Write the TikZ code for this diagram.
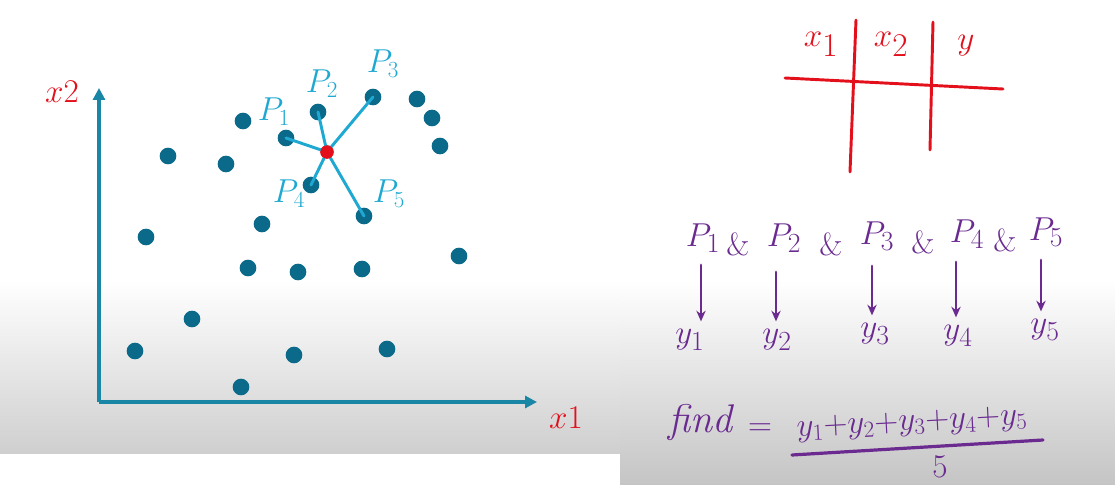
\documentclass[tikz,border=0pt]{standalone}
\usetikzlibrary{arrows.meta}
\definecolor{dotc}{HTML}{0B6A8A}
\definecolor{axisc}{HTML}{1A86A6}
\definecolor{cyanc}{HTML}{1FA9D2}
\definecolor{redc}{HTML}{E3101C}
\definecolor{purc}{HTML}{6A2A90}
\definecolor{grayb}{HTML}{CFCFCF}
\begin{document}
\begin{tikzpicture}[x=0.75pt,y=-0.75pt,
  pt/.style={circle,fill=dotc,inner sep=0pt,minimum size=12.5pt},
  query/.style={circle,fill=redc,inner sep=0pt,minimum size=10pt},
  axisline/.style={axisc,line width=3pt,-{Triangle[length=9pt,width=9pt]}},
  nbr/.style={cyanc,line width=2.2pt,line cap=round},
  clab/.style={cyanc,font=\fontsize{24}{26}\selectfont,inner sep=0pt},
  rlab/.style={redc,font=\fontsize{24}{26}\selectfont,inner sep=0pt},
  thead/.style={redc,font=\fontsize{38}{40}\selectfont,inner sep=0pt},
  tab/.style={redc,line width=2.2pt,line cap=round},
  ptxt/.style={purc,font=\fontsize{29}{31}\selectfont,inner sep=1pt},
  amp/.style={purc,font=\fontsize{24}{26}\selectfont,inner sep=1pt},
  ytxt/.style={purc,font=\fontsize{32}{34}\selectfont,inner sep=1pt},
  ftxt/.style={purc,font=\fontsize{23}{25}\selectfont,inner sep=1pt},
  mapline/.style={purc,line width=2.2pt,line cap=round,-{Stealth[length=8pt,width=7pt]}},
  fracbar/.style={purc,line width=2.4pt,line cap=round}]
\useasboundingbox (0,0) rectangle (1115,485);
\fill[white] (0,0) rectangle (1115,485);
% background gradients
\shade[top color=white,bottom color=grayb] (0,280) rectangle (620,453);
\shade[top color=white,bottom color=grayb!95!black] (620,280) rectangle (1115,485);

% axes
\coordinate (O) at (99,402);
\coordinate (ytip) at (99,88);
\coordinate (xtip) at (537,402);
\draw[axisline] (O) -- (ytip);
\draw[axisline] (O) -- (xtip);
\node[rlab] (lx2) at (62,92) {$x2$};
\node[rlab] (lx1) at (566,418) {$x1$};

% data points
\foreach \n/\x/\y in {a/243/121,b/417/99,c/432/118,d/440/146,e/168/156,
  f/226/164,g/146/237,h/262/224,i/248/268,j/298/272,k/362/269,l/459/256,
  m/192/319,n/135/351,o/294/355,p/387/349,q/241/387}
  \node[pt] (\n) at (\x,\y) {};
\node[pt] (n1) at (286,138) {};
\node[pt] (n2) at (318,112) {};
\node[pt] (n3) at (373,97) {};
\node[pt] (n4) at (311,185) {};
\node[pt] (n5) at (364,216) {};
\node[query] (qp) at (327,152) {};
\foreach \k in {1,...,5} \draw[nbr] (qp.center) -- (n\k.center);
\node[query] at (qp) {};
\node[clab] (c1) at (274,112) {$P_1$};
\node[clab] (c2) at (322,84) {$P_2$};
\node[clab] (c3) at (383,64) {$P_3$};
\node[clab] (c4) at (289,194) {$P_4$};
\node[clab] (c5) at (389,194) {$P_5$};

% table
\coordinate (h1) at (785,78);
\coordinate (h2) at (1003,89);
\coordinate (v1a) at (856,20);
\coordinate (v1b) at (850,172);
\coordinate (v2a) at (933,22);
\coordinate (v2b) at (930,150);
\draw[tab] (h1) -- (h2);
\draw[tab] (v1a) -- (v1b);
\draw[tab] (v2a) -- (v2b);
\node[thead] (tx1) at (821,44) {$x_1$};
\node[thead] (tx2) at (891,44) {$x_2$};
\node[thead,font=\fontsize{48}{50}\selectfont] (ty) at (966,46) {$y$};

% P row
\node[ptxt] (P1) at (703,238) {$P_1$};
\node[amp] (a1) at (738,244) {\&};
\node[ptxt] (P2) at (784,238) {$P_2$};
\node[amp] (a2) at (831,244) {\&};
\node[ptxt] (P3) at (877,236) {$P_3$};
\node[amp] (a3) at (923,242) {\&};
\node[ptxt] (P4) at (967,234) {$P_4$};
\node[amp] (a4) at (1005,240) {\&};
\node[ptxt] (P5) at (1046,232) {$P_5$};
% y row
\node[ytxt] (y1) at (690,340) {$y_1$};
\node[ytxt] (y2) at (777,340) {$y_2$};
\node[ytxt] (y3) at (875,334) {$y_3$};
\node[ytxt] (y4) at (958,336) {$y_4$};
\node[ytxt] (y5) at (1045,330) {$y_5$};
\coordinate (s1) at (701,265);
\coordinate (s2) at (776,272);
\coordinate (s3) at (872,266);
\coordinate (s4) at (956,262);
\coordinate (s5) at (1041,260);
\foreach \k in {1,...,5} \draw[mapline,shorten >=5pt] (s\k) -- (s\k |- y\k.north);

% formula
\node[ptxt,font=\fontsize{30}{32}\selectfont\itshape] (find) at (700,422) {find};
\node[ptxt] (eq) at (760,430) {$=$};
\node[ftxt,rotate=3] (num) at (912,424) {$y_1{+}y_2{+}y_3{+}y_4{+}y_5$};
\coordinate (b1) at (792,455);
\coordinate (b2) at (1043,440);
\draw[fracbar] (b1) -- (b2);
\node[ftxt] (den) at (940,467) {$5$};
\end{tikzpicture}
\end{document}
